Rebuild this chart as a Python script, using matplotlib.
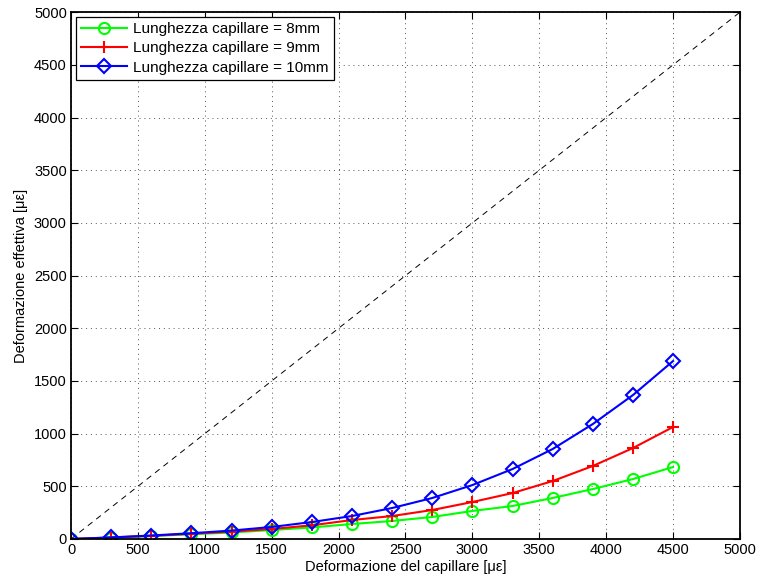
import matplotlib
matplotlib.use("Agg")
import matplotlib.pyplot as plt

plt.rcParams['font.family'] = ['Liberation Sans', 'DejaVu Sans']

x = [0, 300, 600, 900, 1200, 1500, 1800, 2100, 2400, 2700, 3000, 3300, 3600, 3900, 4200, 4500]
l8 = [0, 13, 28, 45, 62, 85, 110, 142, 171, 209, 266, 313, 389, 474, 569, 683]
l9 = [0, 14, 30, 50, 70, 95, 130, 180, 218, 275, 351, 436, 550, 693, 863, 1063]
l10 = [0, 15, 33, 55, 80, 114, 161, 218, 294, 389, 512, 664, 854, 1091, 1366, 1689]
ticks = [0, 500, 1000, 1500, 2000, 2500, 3000, 3500, 4000, 4500, 5000]

fig = plt.figure(figsize=(7.57, 5.8), dpi=100)
ax = fig.add_axes([0.0938, 0.0707, 0.8837, 0.9083])

ax.plot([0, 5000], [0, 5000], 'k--', lw=0.7, dashes=(6, 5))
ax.plot(x, l8, '-o', color='#00ff00', lw=1.5, ms=8, mfc='none', mew=1.5,
        label='Lunghezza capillare = 8mm')
ax.plot(x, l9, '-+', color='red', lw=1.5, ms=9, mew=1.5,
        label='Lunghezza capillare = 9mm')
ax.plot(x, l10, '-D', color='blue', lw=1.5, ms=7, mfc='none', mew=1.5,
        label='Lunghezza capillare = 10mm')

ax.set_xlim(0, 5000)
ax.set_ylim(0, 5000)
ax.set_xticks(ticks)
ax.set_yticks(ticks)
ax.tick_params(direction='in', labelsize=10.5, length=5, width=0.8,
               top=True, right=True, pad=3)
ax.grid(True, ls=(0, (1, 4)), color='#555555', lw=0.7)
for s in ax.spines.values():
    s.set_linewidth(1.3)

ax.set_xlabel('Deformazione del capillare [\u03bc\u03b5]', fontsize=10.5, labelpad=2)
ax.set_ylabel('Deformazione effettiva [\u03bc\u03b5]', fontsize=10.5, labelpad=4)

leg = ax.legend(loc='upper left', fontsize=11, fancybox=False, framealpha=1,
                edgecolor='k', borderaxespad=0.3, handlelength=3.0,
                handletextpad=0.4, labelspacing=0.35, borderpad=0.35)
leg.get_frame().set_linewidth(0.9)

fig.savefig('out.png', dpi=100)
